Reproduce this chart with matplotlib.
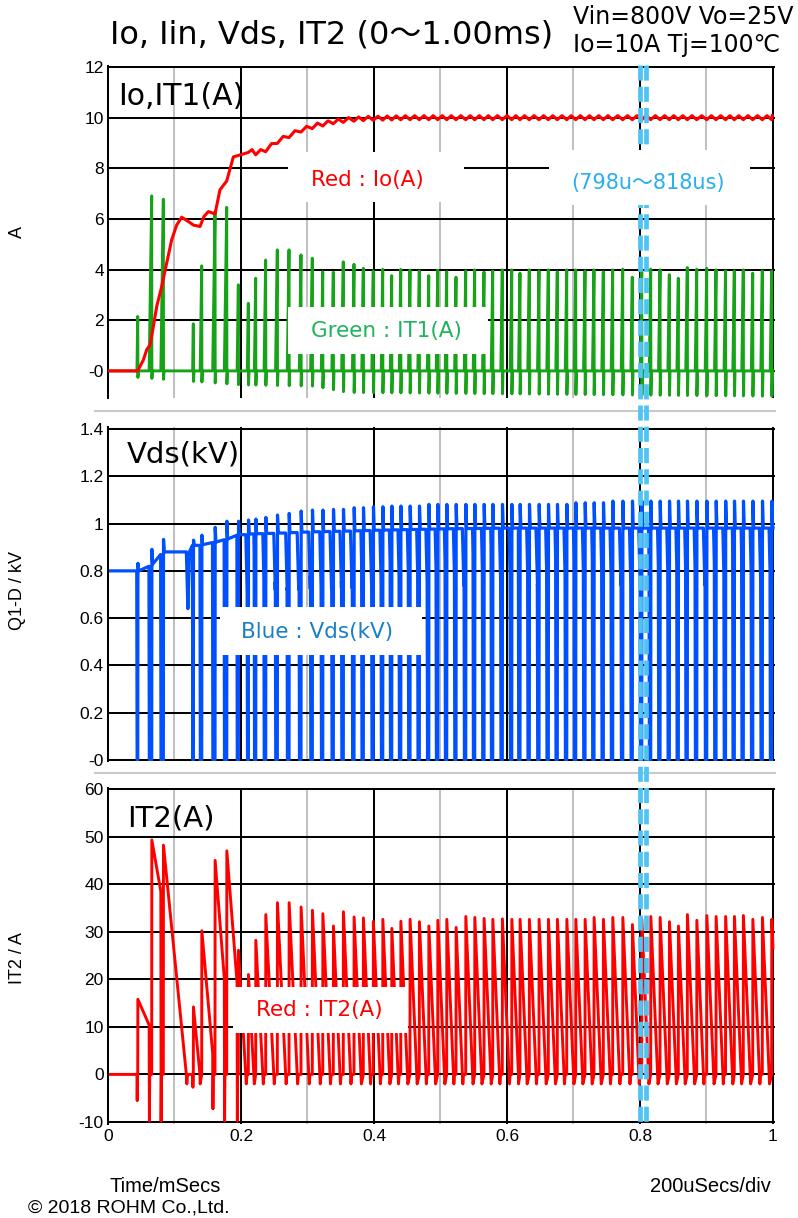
import numpy as np
import matplotlib
matplotlib.use("Agg")
import matplotlib.pyplot as plt
from matplotlib.lines import Line2D
from matplotlib.patches import Rectangle

W, H = 798, 1218

# ---------------- values ----------------
# turn-off instant of every switching cycle (ms)
pulse_t = [0.0447, 0.0657, 0.0832, 0.1283, 0.1409, 0.1609, 0.1785, 0.1960, 0.2110, 0.2221,
           0.2371, 0.2546, 0.2722, 0.2902, 0.3072, 0.3229, 0.3388, 0.3538, 0.3699, 0.3839,
           0.3989, 0.4131, 0.4266, 0.4402, 0.4541, 0.4681, 0.4823, 0.4958, 0.5093, 0.5233,
           0.5379, 0.5514, 0.5654, 0.5785, 0.5929, 0.6071, 0.6195, 0.6335, 0.6481, 0.6621,
           0.6756, 0.6898, 0.7033, 0.7173, 0.7308, 0.7448, 0.7589, 0.7740, 0.7884, 0.8026,
           0.8161, 0.8301, 0.8441, 0.8576, 0.8711, 0.8853, 0.9003, 0.9143, 0.9286, 0.9418,
           0.9553, 0.9695, 0.9839, 0.9980]
# primary current IT1 peak of each cycle (A)
it1_peak = [2.15, 6.91, 6.78, 1.86, 4.15, 6.29, 6.46, 3.40, 2.67, 3.66,
            4.38, 4.78, 4.78, 4.58, 4.45, 3.92, 3.90, 4.31, 4.21, 4.05,
            3.95, 4.01, 3.76, 4.01, 3.98, 3.95, 3.76, 3.98, 3.92, 3.70,
            3.95, 3.99, 3.90, 3.95, 3.99, 3.99, 3.86, 3.99, 3.95, 3.99,
            3.92, 3.99, 3.99, 3.95, 3.99, 3.92, 3.99, 4.02, 3.70, 3.99,
            4.02, 3.99, 3.80, 3.66, 4.08, 4.02, 4.05, 3.99, 3.95, 3.95,
            3.99, 3.86, 3.95, 3.95]
# secondary current IT2 peak of each cycle (A)
it2_peak = [15.8, 49.3, 48.2, 14.2, 30.2, 45.0, 47.0, 26.1, 21.0, 28.2,
            33.6, 36.1, 36.1, 35.2, 34.5, 33.8, 31.2, 34.2, 33.1, 32.9,
            32.2, 32.6, 30.7, 32.2, 32.6, 32.1, 31.2, 32.4, 32.6, 30.9,
            33.2, 33.0, 32.8, 32.6, 32.7, 32.6, 32.6, 32.6, 32.6, 32.6,
            32.6, 32.6, 32.6, 32.6, 33.0, 32.6, 33.0, 33.0, 31.5, 32.6,
            33.2, 33.0, 32.1, 31.2, 33.6, 32.4, 33.4, 33.2, 33.2, 33.2,
            33.4, 32.6, 33.0, 32.6]
# Vds turn-off spike of each cycle (kV)
vds_peak = [0.832, 0.891, 0.933, 0.930, 0.951, 0.984, 1.010, 1.010, 1.015, 1.019,
            1.026, 1.036, 1.043, 1.053, 1.057, 1.057, 1.060, 1.060, 1.067, 1.067,
            1.071, 1.071, 1.074, 1.074, 1.074, 1.074, 1.081, 1.081, 1.081, 1.081,
            1.081, 1.081, 1.081, 1.081, 1.081, 1.081, 1.081, 1.081, 1.081, 1.081,
            1.081, 1.081, 1.088, 1.088, 1.088, 1.088, 1.095, 1.095, 1.095, 1.095,
            1.095, 1.095, 1.095, 1.095, 1.095, 1.095, 1.095, 1.095, 1.095, 1.095,
            1.095, 1.095, 1.095, 1.095]
# output current Io (A)
io_t = [0.0, 0.0447, 0.0531, 0.0581, 0.0632, 0.0682, 0.0732, 0.0807, 0.0882, 0.0957,
        0.1033, 0.1108, 0.1208, 0.1283, 0.1383, 0.1444, 0.1509, 0.1609, 0.1684, 0.1785,
        0.1885, 0.2010, 0.2236, 0.2386, 0.2536, 0.2687, 0.2887, 0.3138, 0.3388, 0.3639,
        0.3890, 0.45, 1.0]
io_v = [0.0, 0.0, 0.43, 0.83, 1.03, 1.75, 2.54, 3.33, 4.26, 5.17,
        5.76, 6.07, 5.9, 5.76, 5.7, 6.1, 6.29, 6.2, 7.15, 7.5,
        8.45, 8.79, 8.6, 8.75, 9.05, 9.25, 9.5, 9.7, 9.84, 9.93,
        9.97, 10.0, 10.0]
io_ripple = 0.08
io_ripple_from = 0.2
# Vds plateau while the switch is off (kV)
vds_base_t = [0.0, 0.0447, 0.05, 0.063, 0.083, 0.103, 0.138, 0.163, 0.178, 0.198,
              0.229, 0.254, 0.30, 0.35, 0.40, 0.50, 0.60, 1.0]
vds_base_v = [0.80, 0.80, 0.815, 0.82, 0.88, 0.905, 0.909, 0.923, 0.934, 0.955,
              0.958, 0.960, 0.965, 0.968, 0.972, 0.978, 0.981, 0.981]
vds_init = 0.80
vds_ring_amp = 0.24
vds_ring_half_us = 2.3
it1_ramp_A_per_us = 1.8
it1_neg_t = [0.04, 0.20, 0.31, 0.36, 1.0]
it1_neg_v = [-0.25, -0.55, -0.60, -0.85, -1.0]
it2_slope_t = [0.0447, 0.0657, 0.0832, 0.13, 0.16, 0.18, 0.20, 0.25, 0.30, 0.40, 1.0]
it2_slope_v = [0.32, 0.80, 1.40, 1.45, 1.80, 1.80, 2.50, 2.90, 3.10, 3.30, 3.30]
it2_dcm_dip = -2.0
it2_turnon_dip = {0: -5.5, 3: -2.7}
cursor_t = [0.7995, 0.8095]

xt = [0, 0.2, 0.4, 0.6, 0.8, 1.0]
xl = ['0', '0.2', '0.4', '0.6', '0.8', '1']
xt_minor = [0.1, 0.3, 0.5, 0.7, 0.9]
yt1 = [0, 2, 4, 6, 8, 10, 12]
yl1 = ['-0', '2', '4', '6', '8', '10', '12']
yt2 = [0, 0.2, 0.4, 0.6, 0.8, 1.0, 1.2, 1.4]
yl2 = ['-0', '0.2', '0.4', '0.6', '0.8', '1', '1.2', '1.4']
yt3 = [-10, 0, 10, 20, 30, 40, 50, 60]
yl3 = ['-10', '0', '10', '20', '30', '40', '50', '60']

# ---------------- waveform assembly from the per-cycle values ----------------
n = len(pulse_t)
t_off = np.array(pulse_t)
t_on = t_off - np.array(it1_peak) / it1_ramp_A_per_us / 1000.0

a_t, a_v = [0.0], [0.0]          # IT1
for k in range(n):
    neg = float(np.interp(t_off[k], it1_neg_t, it1_neg_v))
    a_t += [t_on[k], t_off[k], t_off[k] + 0.0003, t_off[k] + 0.0011]
    a_v += [0.0, it1_peak[k], neg, 0.0]
a_t.append(1.0); a_v.append(0.0)

b_t, b_v = [0.0], [0.0]          # IT2
c_t, c_v = [0.0], [vds_init]     # Vds
ccm_von = None
vds_pre = vds_init
half = vds_ring_half_us / 1000.0
for k in range(n):
    ton, toff = t_on[k], t_off[k]
    tnext = t_on[k + 1] if k + 1 < n else 1.0
    if ccm_von is not None:
        rr = -min(9.8, 5 + 0.5 * ccm_von)
        b_t += [ton, ton + 0.0004, ton + 0.0009]; b_v += [ccm_von, rr, 0.0]
    elif k in it2_turnon_dip:
        b_t += [ton, ton + 0.0004, ton + 0.0009]; b_v += [0.0, it2_turnon_dip[k], 0.0]
    pk = it2_peak[k]
    b_t += [toff, toff + 0.0002]; b_v += [0.0, pk]
    slope = float(np.interp(toff, it2_slope_t, it2_slope_v)) * 1000.0
    tz = toff + 0.0002 + pk / slope
    base = float(np.interp(toff, vds_base_t, vds_base_v))
    c_t += [ton - 0.0003, ton + 0.0003, toff, toff + 0.0003, toff + 0.0014]
    c_v += [vds_pre, 0.0, 0.0, vds_peak[k], base]
    if tz < tnext:
        b_t.append(tz); b_v.append(0.0)
        b_t.append(min(tz + 0.0007, tnext)); b_v.append(it2_dcm_dip)
        if tz + 0.0018 < tnext:
            b_t.append(tz + 0.0018); b_v.append(0.0)
        ccm_von = None
        c_t.append(tz); c_v.append(base)
        if tz + half < tnext:
            c_t.append(tz + half); c_v.append(base - vds_ring_amp)
            if tz + 2 * half < tnext:
                c_t.append(tz + 2 * half); c_v.append(base)
                vds_pre = float(np.interp(tnext, vds_base_t, vds_base_v))
            else:
                frac = (tnext - tz - half) / half
                vds_pre = base - vds_ring_amp * (1 - frac)
        else:
            frac = (tnext - tz) / half
            vds_pre = base - vds_ring_amp * frac
    else:
        ccm_von = pk - slope * (tnext - toff - 0.0002)
        vds_pre = float(np.interp(tnext, vds_base_t, vds_base_v))
if ccm_von is not None:
    b_t.append(1.0); b_v.append(ccm_von)
c_t.append(1.0); c_v.append(vds_pre)

d_t = [t for t in io_t if t < io_ripple_from]
d_v = [v for t, v in zip(io_t, io_v) if t < io_ripple_from]
for k in range(n):
    tk = t_off[k]
    if tk < io_ripple_from:
        continue
    tn = t_off[k + 1] if k + 1 < n else 1.0
    tm = tk + 0.5 * (tn - tk)
    d_t += [tk, tm]
    d_v += [float(np.interp(tk, io_t, io_v)) - io_ripple,
            float(np.interp(tm, io_t, io_v)) + io_ripple]

# ---------------- figure ----------------
plt.rcParams['font.family'] = ['DejaVu Sans', 'Noto Sans CJK JP']
NARROW = ['Liberation Sans Narrow', 'Liberation Sans', 'DejaVu Sans']

fig = plt.figure(figsize=(W / 100, H / 100), dpi=100)
fig.patch.set_facecolor('white')

def px_axes(top, bottom):
    return [108 / W, 1 - bottom / H, (774.5 - 108) / W, (bottom - top) / H]

ax1 = fig.add_axes(px_axes(65.5, 398))
ax2 = fig.add_axes(px_axes(427.5, 761))
ax3 = fig.add_axes(px_axes(787.5, 1123.5))
ax1.set_ylim(-1.07, 12.06)
ax2.set_ylim(-0.004, 1.4063)
ax3.set_ylim(-10.32, 60.32)

GREEN = '#17a317'
BLUE = '#0050ff'
RED = '#ff0000'
ax1.plot(a_t, a_v, color=GREEN, lw=2.1, zorder=2)
ax1.plot(d_t, d_v, color=RED, lw=2.2, zorder=3)
ax2.plot(c_t, c_v, color=BLUE, lw=2.3, zorder=2)
ax3.plot(b_t, b_v, color=RED, lw=2.1, zorder=2)

for ax, yt, yl in ((ax1, yt1, yl1), (ax2, yt2, yl2), (ax3, yt3, yl3)):
    ax.set_xlim(0, 1.00226)
    ax.set_xticks(xt)
    ax.set_xticks(xt_minor, minor=True)
    ax.set_yticks(yt, yl, fontfamily=NARROW, fontsize=12.5)
    ax.set_axisbelow(True)
    ax.grid(which='major', color='black', lw=1.45)
    ax.grid(which='minor', axis='x', color='#c0c0c0', lw=1.45)
    ax.tick_params(which='both', length=0)
    ax.tick_params(axis='y', pad=3)
    for s in ('top', 'right', 'bottom'):
        ax.spines[s].set_visible(False)
    ax.spines['left'].set_color('black')
    ax.spines['left'].set_linewidth(1.45)
    ax.set_facecolor('white')
ax1.tick_params(labelbottom=False)
ax2.tick_params(labelbottom=False)
ax3.set_xticks(xt, xl, fontfamily=NARROW, fontsize=12.5)
ax3.tick_params(axis='x', pad=4)

def fx(x):
    return x / W

def fy(y):
    return 1 - y / H

# separators between panels
for ysep in (411, 773):
    fig.add_artist(Line2D([fx(95), fx(775)], [fy(ysep), fy(ysep)], color='#c8c8c8',
                          lw=1.5, transform=fig.transFigure, zorder=1))

# cursor lines
for ct in cursor_t:
    xpix = 108 + ct * 665
    fig.add_artist(Line2D([fx(xpix), fx(xpix)], [fy(65), fy(1123)], color='#4fc3f2',
                          lw=3.4, dashes=(3.2, 1.3), transform=fig.transFigure, zorder=4))

# label boxes
def fbox(x0, y0, x1, y1):
    fig.add_artist(Rectangle((fx(x0), fy(y1)), (x1 - x0) / W, (y1 - y0) / H,
                             transform=fig.transFigure, facecolor='white',
                             edgecolor='none', zorder=5))

fbox(288, 152, 464, 202)
fbox(549, 150, 750, 205)
fbox(288, 307, 488, 354)
fbox(220, 607, 422, 655)
fbox(233, 987, 408, 1033)

def ftext(x, y, s, **kw):
    kw.setdefault('zorder', 6)
    return fig.text(fx(x), fy(y), s, **kw)

ftext(367, 180, 'Red : Io(A)', color=RED, fontsize=15.5, ha='center', va='center')
ftext(648, 183, '(798u～818us)', color='#29aeef', fontsize=15, ha='center', va='center')
ftext(386, 331, 'Green : IT1(A)', color='#1fb35c', fontsize=15.5, ha='center', va='center')
ftext(317, 632, 'Blue : Vds(kV)', color='#1a7fc4', fontsize=15.5, ha='center', va='center')
ftext(319, 1010, 'Red : IT2(A)', color=RED, fontsize=15.5, ha='center', va='center')

# panel titles
ftext(118, 105, 'Io,IT1(A)', color='black', fontsize=21.5, ha='left', va='baseline')
ftext(127, 462, 'Vds(kV)', color='black', fontsize=21, ha='left', va='baseline')
ftext(127, 827, 'IT2(A)', color='black', fontsize=21, ha='left', va='baseline')

# header
ftext(110, 43, 'Io, Iin, Vds, IT2 (0～1.00ms)', color='black', fontsize=23,
      ha='left', va='baseline')
ftext(573, 24, 'Vin=800V Vo=25V', color='black', fontsize=17, ha='left', va='baseline')
ftext(573, 52, 'Io=10A Tj=100℃', color='black', fontsize=17, ha='left', va='baseline')

# axis labels
ftext(17, 232, 'A', fontsize=13, rotation=90, ha='center', va='center', family=NARROW)
ftext(17, 590, 'Q1-D / kV', fontsize=13, rotation=90, ha='center', va='center', family=NARROW)
ftext(17, 958, 'IT2 / A', fontsize=13, rotation=90, ha='center', va='center', family=NARROW)
ftext(165, 1186, 'Time/mSecs', fontsize=14.5, ha='center', va='center', family=NARROW)
ftext(710, 1186, '200uSecs/div', fontsize=14.5, ha='center', va='center', family=NARROW)
ftext(28, 1208, '© 2018 ROHM Co.,Ltd.', fontsize=14, ha='left', va='center', family=NARROW)

fig.savefig('out.png', dpi=100, facecolor='white')
